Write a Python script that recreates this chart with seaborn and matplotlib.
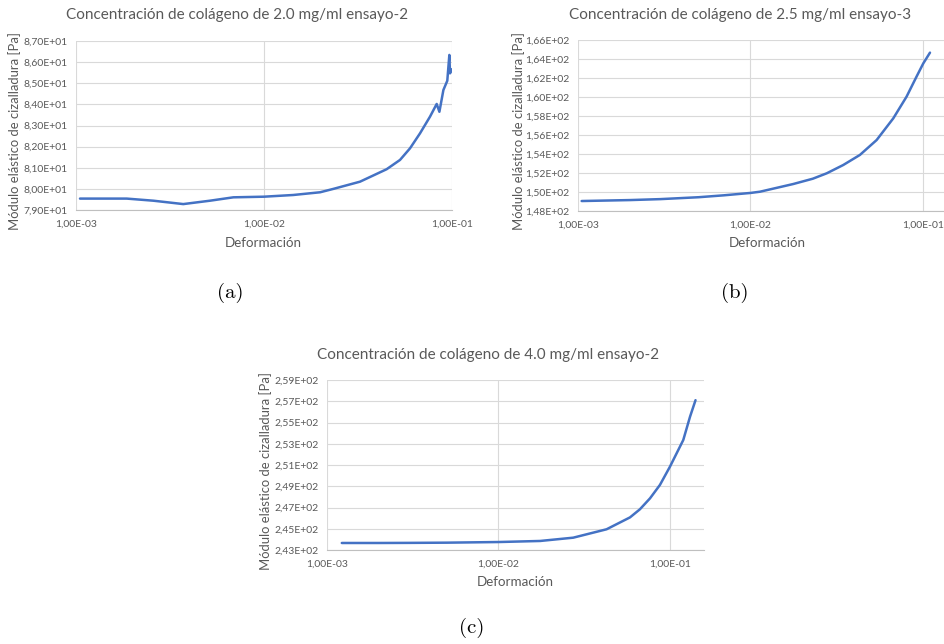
import numpy as np
import pandas as pd
import matplotlib
matplotlib.use("Agg")
import matplotlib.pyplot as plt
import seaborn as sns
from matplotlib.ticker import FuncFormatter, FixedLocator, NullLocator

# --------------------------- DATA ---------------------------
strain_a = [1.05e-3, 1.86e-3, 2.58e-3, 3.72e-3, 5.16e-3, 6.87e-3, 1.0e-2, 1.43e-2,
            1.99e-2, 2.34e-2, 3.24e-2, 4.49e-2, 5.29e-2, 5.98e-2, 6.76e-2, 7.64e-2,
            8.29e-2, 8.57e-2, 9.0e-2, 9.44e-2, 9.68e-2, 9.76e-2, 9.96e-2]
modulus_a = [79.54, 79.54, 79.44, 79.28, 79.44, 79.60, 79.63, 79.71,
             79.84, 80.00, 80.34, 80.93, 81.37, 81.92, 82.63, 83.42,
             84.02, 83.65, 84.68, 85.12, 86.34, 85.47, 85.66]

strain_b = [1.05e-3, 2.0e-3, 3.0e-3, 5.0e-3, 7.0e-3, 1.0e-2, 1.135e-2, 1.77e-2, 2.3e-2,
            2.77e-2, 3.45e-2, 4.31e-2, 5.39e-2, 6.73e-2, 8.04e-2, 9.18e-2, 1.005e-1, 1.099e-1]
modulus_b = [149.05, 149.15, 149.25, 149.45, 149.65, 149.90, 150.03, 150.84, 151.40,
             151.97, 152.84, 153.90, 155.47, 157.75, 160.04, 162.14, 163.54, 164.67]

strain_c = [1.22e-3, 2.0e-3, 3.0e-3, 5.0e-3, 1.0e-2, 1.75e-2, 2.73e-2, 4.27e-2, 5.85e-2,
            6.68e-2, 7.65e-2, 8.74e-2, 1.0e-1, 1.196e-1, 1.31e-1, 1.41e-1]
modulus_c = [243.66, 243.66, 243.67, 243.69, 243.75, 243.85, 244.16, 244.95, 246.07,
             246.83, 247.86, 249.12, 250.84, 253.35, 255.55, 257.10]

titles = ["Concentración de colágeno de 2.0 mg/ml ensayo-2",
          "Concentración de colágeno de 2.5 mg/ml ensayo-3",
          "Concentración de colágeno de 4.0 mg/ml ensayo-2"]
captions = ["(a)", "(b)", "(c)"]
y_ticks = [np.arange(79, 87.01, 1), np.arange(148, 166.01, 2), np.arange(243, 259.01, 2)]
x_ticks = [1e-3, 1e-2, 1e-1]
x_limits = [(1e-3, 1e-1), (1e-3, 0.1325), (1e-3, 0.158)]

# --------------------------- STYLE ---------------------------
sns.set_style("white")
plt.rcParams['font.family'] = ['Lato', 'DejaVu Sans']
text_gray = '#595959'
grid_gray = '#d9d9d9'
line_blue = '#4472C4'

def sci_comma(v, pos):
    return f"{v:.2E}".replace('.', ',')

fig = plt.figure(figsize=(9.44, 6.44), dpi=100)
W, H = 944, 644
# axes boxes in pixels: left, right, top, bottom
boxes = [(76, 452, 41, 210), (578, 944, 40, 211), (327, 704, 380, 550)]
title_pos = [(237, 15), (740, 15), (488, 355)]
xlabel_pos = [(263, 243), (767, 243), (515, 582)]
ylabel_x = [15, 519, 266]
caption_pos = [(230, 293), (735, 293), (472, 628)]

series = [(strain_a, modulus_a), (strain_b, modulus_b), (strain_c, modulus_c)]

for i, (xs, ys) in enumerate(series):
    l, r, t, b = boxes[i]
    ax = fig.add_axes([l / W, 1 - b / H, (r - l) / W, (b - t) / H])
    df = pd.DataFrame({'Deformacion': xs, 'Modulo': ys})
    sns.lineplot(data=df, x='Deformacion', y='Modulo', ax=ax, color=line_blue,
                 linewidth=1.8, sort=False, estimator=None)
    ax.set_xscale('log')
    ax.set_xlim(*x_limits[i])
    ax.set_ylim(y_ticks[i][0], y_ticks[i][-1])
    ax.xaxis.set_major_locator(FixedLocator(x_ticks))
    ax.xaxis.set_minor_locator(NullLocator())
    ax.yaxis.set_major_locator(FixedLocator(y_ticks[i]))
    ax.xaxis.set_major_formatter(FuncFormatter(sci_comma))
    ax.yaxis.set_major_formatter(FuncFormatter(sci_comma))
    ax.grid(True, color=grid_gray, linewidth=0.8)
    ax.set_axisbelow(True)
    for s in ['top', 'right', 'left']:
        ax.spines[s].set_visible(False)
    ax.spines['bottom'].set_color('#bfbfbf')
    ax.spines['bottom'].set_linewidth(0.8)
    ax.tick_params(axis='both', length=0, labelsize=7.5, labelcolor=text_gray)
    ax.tick_params(axis='x', pad=7)
    ax.tick_params(axis='y', pad=6)
    ax.set_xlabel('')
    ax.set_ylabel('')

    # Excel-like placement of the chart texts
    tx, ty = title_pos[i]
    fig.text(tx / W, 1 - ty / H, titles[i], fontsize=11, color=text_gray,
             ha='center', va='center')
    xx, xy = xlabel_pos[i]
    fig.text(xx / W, 1 - xy / H, 'Deformación', fontsize=9.6, color=text_gray,
             ha='center', va='center')
    fig.text(ylabel_x[i] / W, 1 - ((t + b) / 2 + 6) / H,
             'Módulo elástico de cizalladura [Pa]', fontsize=9.4, color=text_gray,
             rotation=90, ha='center', va='center')
    cx, cy = caption_pos[i]
    fig.text(cx / W, 1 - cy / H, captions[i], fontsize=15, family='cmr10',
             ha='center', va='center', color='black')

fig.savefig('out.png', dpi=100)
